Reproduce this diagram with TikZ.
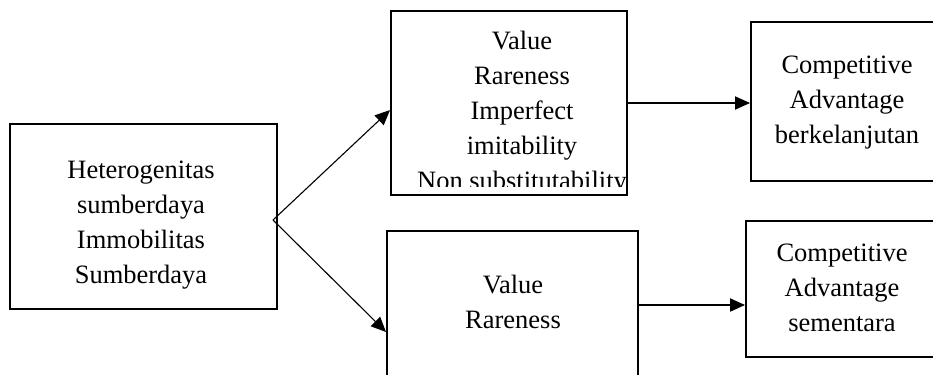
\documentclass[tikz,border=0pt]{standalone}
\usepackage{fontspec}
\setmainfont{Liberation Serif}
\usetikzlibrary{arrows.meta,fit}
\tikzset{
  kotak/.style={draw,line width=0.9pt,inner sep=0pt},
  teks/.style={inner sep=0pt,align=center,anchor=base,font=\fontsize{12pt}{15.85pt}\selectfont},
  panah/.style={-{Triangle[length=6.8pt,width=6pt]},line width=0.5pt}
}
\begin{document}
\begin{tikzpicture}[x=0.453pt,y=-0.453pt]
\clip (0,0) rectangle (933,374);
% kotak
\node[kotak,fit={(10,124) (277,309)}] (hetero) {};
\node[kotak,fit={(391,11) (627,195)}] (vrin) {};
\node[kotak,fit={(387,231) (638,379)}] (vr) {};
\node[kotak,fit={(751,22) (960,181)}] (cab) {};
\node[kotak,fit={(746,221) (960,357)}] (cas) {};
% teks (anchor base = baris terakhir)
\node[teks] (teksHetero) at (141,283) {Heterogenitas\\sumberdaya\\Immobilitas\\Sumberdaya};
\begin{scope}
\clip (391,11) rectangle (627,186);
\node[teks] (teksVrin) at (522,189) {Value\\Rareness\\Imperfect\\imitability\\Non substitutability};
\end{scope}
\node[teks] (teksVr) at (513,328) {Value\\Rareness};
\node[teks] (teksCab) at (847,143) {Competitive\\Advantage\\berkelanjutan};
\node[teks] (teksCas) at (842,331) {Competitive\\Advantage\\sementara};
% panah
\coordinate (cabang) at (273,220);
\draw[panah] (cabang) -- ([yshift=-3.2pt]vrin.west);
\draw[panah] (cabang) -- ([yshift=-46.2pt]vr.north west);
\draw[panah] (vrin.east) -- (vrin.east -| cab.west);
\draw[panah] (vr.east) -- (vr.east -| cas.west);
\end{tikzpicture}
\end{document}
